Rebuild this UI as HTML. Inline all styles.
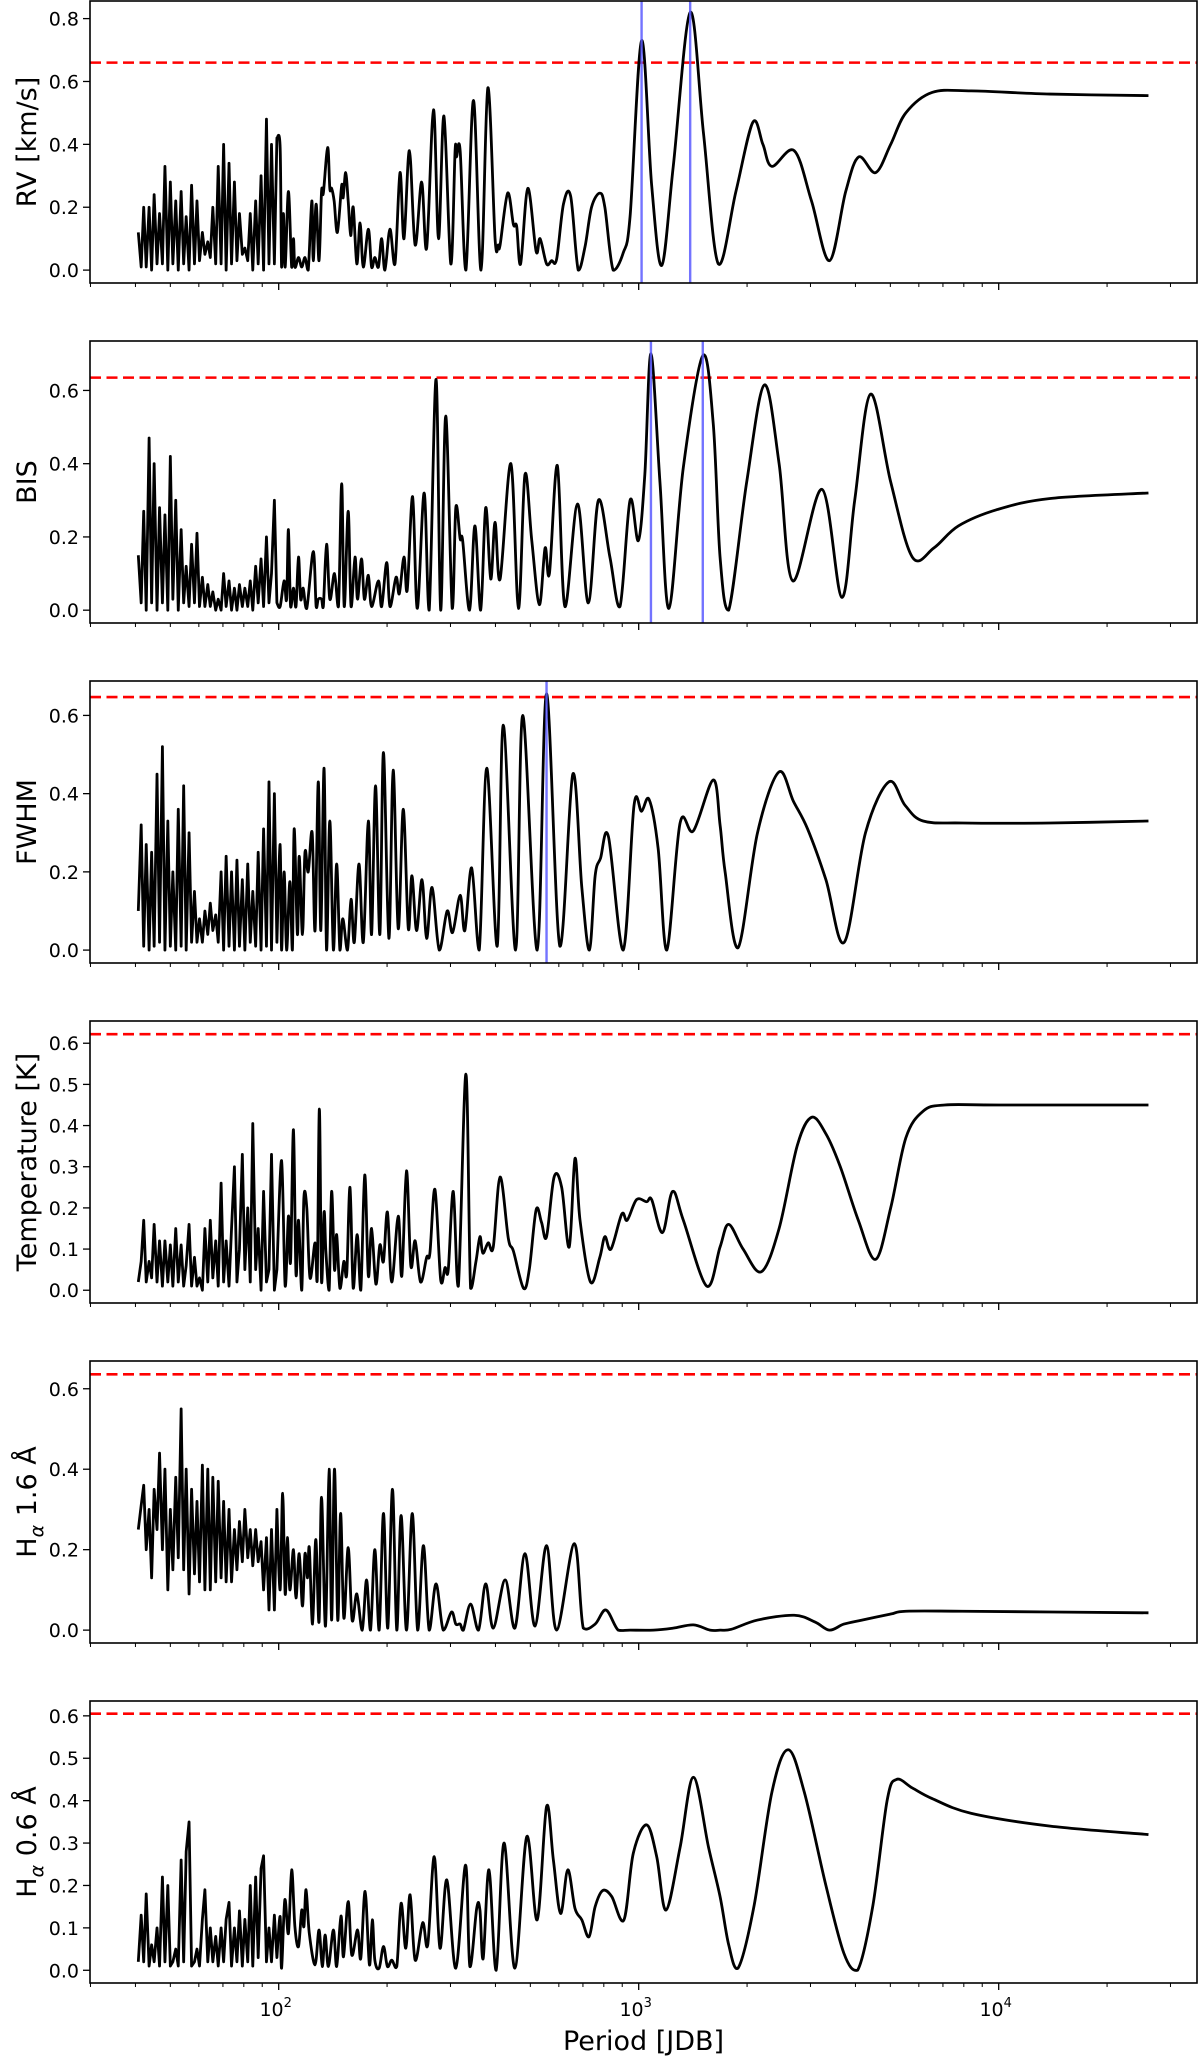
<!DOCTYPE html>
<html>
<head>
<meta charset="utf-8">
<style>
  html,body{margin:0;padding:0;background:#fff;}
  svg{display:block;font-family:"DejaVu Sans","Liberation Sans",sans-serif;}
</style>
</head>
<body>
<svg id="fig" width="1200" height="2058" viewBox="0 0 1200 2058" xmlns="http://www.w3.org/2000/svg"></svg>
<script>
// ---- shared dense period grid (log10 of period in days) ----
const denseLogP = [1.610,1.618,1.625,1.632,1.640,1.647,1.654,1.662,1.669,1.677,1.684,1.692,1.699,1.706,1.714,1.721,1.729,1.736,1.743,1.751,1.758,1.766,1.773,1.780,1.788,1.795,1.803,1.810,1.817,1.825,1.832,1.840,1.847,1.854,1.862,1.869,1.877,1.884,1.891,1.899,1.906,1.914,1.921,1.928,1.936,1.943,1.951,1.958,1.966,1.973,1.980,1.988,1.995];

// ---- RV ----
const rvDense = [0.12,0.01,0.2,0.01,0.2,0.0,0.24,0.02,0.18,0.02,0.33,0.0,0.28,0.02,0.22,0.0,0.25,0.02,0.17,0.0,0.27,0.02,0.22,0.03,0.12,0.05,0.09,0.04,0.2,0.02,0.33,0.02,0.40,0.0,0.34,0.02,0.28,0.03,0.18,0.05,0.07,0.03,0.18,0.0,0.22,0.02,0.3,0.0,0.48,0.02,0.4,0.02,0.42];
const rvLogP = [2.004,2.008,2.013,2.018,2.027,2.036,2.041,2.045,2.055,2.064,2.073,2.082,2.092,2.096,2.104,2.112,2.119,2.124,2.136,2.142,2.147,2.154,2.163,2.175,2.179,2.186,2.193,2.200,2.207,2.217,2.226,2.235,2.249,2.258,2.267,2.277,2.286,2.295,2.309,2.323,2.337,2.348,2.363,2.379,2.397,2.411,2.430,2.444,2.459,2.478,2.490,2.494,2.504,2.520,2.541,2.562,2.581,2.601,2.610,2.615,2.636,2.652,2.661,2.672,2.692,2.715,2.726,2.744,2.758,2.772,2.791,2.811,2.832,2.851,2.869,2.892,2.906,2.929,2.957,2.976,3.008,3.036,3.064,3.096,3.143,3.180,3.221,3.27,3.317,3.345,3.370,3.432,3.48,3.530,3.575,3.611,3.658,3.70,3.742,3.815,3.924,4.143,4.416];
const rvPower = [0.39,0.01,0.18,0.01,0.25,0.01,0.10,0.01,0.04,0.01,0.04,0.0,0.22,0.03,0.21,0.03,0.25,0.245,0.39,0.26,0.26,0.22,0.12,0.27,0.23,0.31,0.22,0.11,0.20,0.02,0.15,0.01,0.13,0.01,0.04,0.01,0.10,0.0,0.13,0.02,0.31,0.10,0.38,0.08,0.28,0.07,0.51,0.10,0.49,0.02,0.38,0.36,0.38,0.0,0.54,0.0,0.58,0.10,0.08,0.08,0.245,0.145,0.14,0.02,0.26,0.06,0.10,0.02,0.03,0.035,0.21,0.235,0.0,0.075,0.20,0.245,0.20,0.0,0.055,0.17,0.73,0.27,0.015,0.33,0.82,0.435,0.02,0.25,0.47,0.40,0.33,0.38,0.22,0.03,0.25,0.36,0.31,0.40,0.50,0.565,0.57,0.56,0.555];

// ---- BIS ----
const bisDense = [0.15,0.02,0.27,0.0,0.47,0.02,0.4,0.0,0.28,0.02,0.26,0.0,0.42,0.03,0.3,0.0,0.22,0.02,0.12,0.01,0.18,0.02,0.21,0.01,0.09,0.01,0.07,0.01,0.05,0.0,0.03,0.0,0.1,0.01,0.08,0.0,0.06,0.0,0.07,0.01,0.06,0.01,0.08,0.0,0.12,0.02,0.14,0.01,0.2,0.02,0.1,0.3,0.02];
const bisLogP = [2.004,2.015,2.022,2.027,2.033,2.041,2.048,2.055,2.061,2.068,2.078,2.096,2.104,2.110,2.119,2.124,2.133,2.142,2.155,2.166,2.175,2.182,2.193,2.201,2.212,2.219,2.230,2.238,2.249,2.258,2.277,2.286,2.300,2.309,2.326,2.335,2.348,2.357,2.372,2.385,2.404,2.418,2.437,2.450,2.464,2.482,2.492,2.504,2.511,2.530,2.545,2.561,2.575,2.589,2.601,2.615,2.645,2.666,2.684,2.703,2.724,2.740,2.752,2.774,2.795,2.830,2.860,2.888,2.920,2.948,2.976,2.999,3.017,3.034,3.059,3.084,3.124,3.178,3.207,3.226,3.25,3.30,3.349,3.39,3.428,3.509,3.564,3.60,3.644,3.70,3.760,3.82,3.888,3.997,4.143,4.416];
const bisPower = [0.01,0.08,0.03,0.22,0.01,0.06,0.01,0.145,0.03,0.06,0.005,0.16,0.01,0.03,0.03,0.01,0.18,0.03,0.10,0.01,0.345,0.01,0.27,0.01,0.145,0.03,0.14,0.03,0.095,0.01,0.08,0.01,0.13,0.01,0.09,0.045,0.145,0.055,0.31,0.005,0.32,0.0,0.63,0.0,0.53,0.005,0.28,0.195,0.19,0.0,0.23,0.0,0.28,0.085,0.24,0.085,0.40,0.005,0.37,0.19,0.015,0.17,0.10,0.395,0.01,0.29,0.02,0.30,0.145,0.01,0.30,0.19,0.37,0.70,0.35,0.005,0.39,0.695,0.51,0.145,0.0,0.35,0.615,0.4,0.08,0.33,0.035,0.3,0.59,0.35,0.145,0.17,0.23,0.275,0.305,0.32];

// ---- FWHM ----
const fwhmDense = [0.1,0.32,0.01,0.27,0.0,0.25,0.01,0.45,0.02,0.52,0.0,0.33,0.01,0.2,0.0,0.36,0.01,0.42,0.0,0.3,0.02,0.15,0.02,0.08,0.02,0.1,0.04,0.12,0.05,0.09,0.02,0.2,0.0,0.24,0.01,0.2,0.0,0.23,0.01,0.18,0.0,0.22,0.02,0.15,0.01,0.25,0.0,0.31,0.01,0.43,0.0,0.4,0.02];
const fwhmLogP = [2.004,2.008,2.015,2.022,2.031,2.038,2.043,2.052,2.057,2.066,2.073,2.082,2.093,2.101,2.110,2.117,2.126,2.133,2.142,2.152,2.161,2.170,2.178,2.191,2.201,2.210,2.223,2.235,2.249,2.258,2.269,2.281,2.291,2.306,2.318,2.332,2.346,2.360,2.370,2.383,2.398,2.411,2.426,2.446,2.468,2.483,2.504,2.517,2.536,2.557,2.578,2.607,2.624,2.658,2.678,2.718,2.744,2.781,2.817,2.842,2.863,2.879,2.894,2.916,2.957,2.987,3.008,3.029,3.054,3.078,3.115,3.152,3.207,3.226,3.24,3.276,3.33,3.389,3.43,3.469,3.52,3.571,3.63,3.695,3.74,3.79,3.9,4.143,4.416];
const fwhmPower = [0.27,0.0,0.20,0.0,0.175,0.0,0.31,0.04,0.24,0.04,0.25,0.20,0.30,0.05,0.43,0.05,0.465,0.0,0.33,0.0,0.22,0.0,0.08,0.0,0.13,0.02,0.22,0.02,0.33,0.04,0.42,0.04,0.505,0.03,0.46,0.055,0.36,0.055,0.19,0.05,0.18,0.03,0.16,0.0,0.10,0.045,0.14,0.05,0.21,0.0,0.465,0.01,0.575,0.0,0.60,0.0,0.655,0.01,0.45,0.16,0.0,0.19,0.235,0.29,0.0,0.37,0.355,0.385,0.26,0.0,0.325,0.305,0.435,0.32,0.2,0.006,0.3,0.455,0.38,0.31,0.18,0.02,0.3,0.43,0.37,0.33,0.325,0.325,0.33];

// ---- Temperature ----
const tempDense = [0.02,0.07,0.17,0.02,0.07,0.03,0.16,0.02,0.12,0.01,0.12,0.02,0.11,0.01,0.15,0.02,0.11,0.01,0.06,0.16,0.01,0.08,0.01,0.03,0.0,0.15,0.02,0.17,0.03,0.12,0.01,0.26,0.02,0.12,0.01,0.15,0.3,0.02,0.1,0.33,0.05,0.2,0.02,0.405,0.05,0.15,0.0,0.24,0.02,0.05,0.33,0.0,0.05];
const tempLogP = [2.008,2.018,2.027,2.033,2.041,2.048,2.055,2.064,2.070,2.078,2.087,2.101,2.107,2.113,2.119,2.126,2.131,2.140,2.147,2.155,2.161,2.170,2.181,2.189,2.198,2.207,2.218,2.228,2.239,2.249,2.258,2.270,2.281,2.291,2.302,2.314,2.332,2.342,2.355,2.367,2.379,2.394,2.411,2.420,2.434,2.450,2.462,2.471,2.485,2.499,2.520,2.533,2.548,2.559,2.567,2.582,2.596,2.615,2.638,2.652,2.680,2.696,2.715,2.730,2.744,2.765,2.786,2.807,2.823,2.837,2.866,2.892,2.906,2.923,2.953,2.968,2.994,3.022,3.036,3.066,3.094,3.124,3.189,3.226,3.25,3.29,3.341,3.39,3.44,3.480,3.52,3.560,3.61,3.658,3.70,3.742,3.79,3.85,4.0,4.416];
const tempPower = [0.315,0.01,0.18,0.07,0.39,0.04,0.17,0.0,0.225,0.20,0.03,0.115,0.025,0.44,0.02,0.19,0.095,0.0,0.24,0.05,0.135,0.005,0.07,0.04,0.25,0.005,0.135,0.0,0.28,0.035,0.15,0.015,0.11,0.07,0.19,0.02,0.18,0.035,0.29,0.06,0.12,0.02,0.08,0.09,0.245,0.025,0.055,0.05,0.24,0.01,0.525,0.005,0.07,0.13,0.09,0.115,0.105,0.275,0.125,0.095,0.005,0.05,0.195,0.165,0.13,0.275,0.25,0.105,0.32,0.17,0.02,0.08,0.13,0.10,0.185,0.17,0.22,0.215,0.22,0.14,0.24,0.17,0.01,0.105,0.16,0.1,0.045,0.15,0.35,0.42,0.38,0.30,0.17,0.075,0.2,0.37,0.435,0.45,0.45,0.45];

// ---- H-alpha 1.6 A ----
const ha16Dense = [0.25,0.31,0.36,0.2,0.3,0.13,0.35,0.25,0.44,0.2,0.4,0.1,0.3,0.15,0.38,0.18,0.55,0.15,0.4,0.09,0.35,0.14,0.32,0.12,0.41,0.1,0.4,0.1,0.38,0.12,0.37,0.13,0.32,0.12,0.3,0.12,0.25,0.15,0.27,0.17,0.3,0.18,0.25,0.16,0.25,0.17,0.22,0.1,0.23,0.05,0.25,0.05,0.3];
const ha16LogP = [2.004,2.011,2.018,2.024,2.031,2.041,2.048,2.057,2.066,2.073,2.080,2.085,2.094,2.103,2.112,2.119,2.130,2.140,2.147,2.155,2.164,2.172,2.181,2.193,2.204,2.217,2.232,2.244,2.255,2.267,2.279,2.291,2.303,2.316,2.328,2.340,2.355,2.371,2.386,2.402,2.418,2.437,2.457,2.480,2.492,2.504,2.513,2.533,2.555,2.575,2.596,2.629,2.656,2.684,2.712,2.744,2.772,2.821,2.846,2.879,2.909,2.943,2.976,3.041,3.096,3.152,3.198,3.226,3.257,3.33,3.432,3.49,3.530,3.57,3.62,3.70,3.742,3.9,4.416];
const ha16Power = [0.10,0.34,0.09,0.23,0.10,0.20,0.08,0.19,0.06,0.19,0.13,0.205,0.015,0.225,0.02,0.33,0.01,0.40,0.025,0.40,0.025,0.29,0.03,0.205,0.025,0.09,0.0,0.125,0.0,0.20,0.0,0.29,0.005,0.35,0.0,0.285,0.0,0.29,0.0,0.21,0.0,0.115,0.0,0.045,0.015,0.015,0.0,0.065,0.0,0.115,0.005,0.125,0.005,0.19,0.01,0.21,0.0,0.215,0.005,0.015,0.05,0.0,0.0,0.0,0.005,0.013,0.0,0.0,0.002,0.025,0.037,0.02,0.0,0.015,0.025,0.04,0.047,0.047,0.043];

// ---- H-alpha 0.6 A ----
const ha06Dense = [0.02,0.13,0.02,0.18,0.01,0.06,0.02,0.1,0.01,0.22,0.02,0.2,0.01,0.02,0.05,0.01,0.26,0.02,0.28,0.35,0.01,0.02,0.05,0.01,0.12,0.19,0.02,0.1,0.02,0.08,0.01,0.1,0.02,0.12,0.16,0.01,0.1,0.02,0.14,0.01,0.12,0.02,0.2,0.01,0.22,0.03,0.24,0.27,0.02,0.1,0.02,0.13,0.03];
const ha06LogP = [2.004,2.008,2.017,2.027,2.036,2.045,2.055,2.064,2.070,2.076,2.085,2.101,2.112,2.121,2.129,2.138,2.152,2.161,2.173,2.180,2.193,2.203,2.219,2.228,2.240,2.252,2.260,2.267,2.279,2.291,2.302,2.314,2.328,2.340,2.353,2.365,2.379,2.400,2.414,2.432,2.448,2.467,2.492,2.519,2.531,2.550,2.559,2.568,2.584,2.604,2.626,2.656,2.689,2.718,2.744,2.763,2.783,2.803,2.823,2.842,2.862,2.879,2.900,2.925,2.959,2.985,3.022,3.050,3.076,3.115,3.152,3.194,3.226,3.25,3.276,3.32,3.37,3.415,3.46,3.52,3.57,3.608,3.65,3.69,3.716,3.76,3.815,3.924,4.143,4.416];
const ha06Power = [0.127,0.005,0.166,0.087,0.237,0.103,0.056,0.142,0.103,0.19,0.087,0.013,0.095,0.009,0.083,0.009,0.095,0.009,0.128,0.032,0.162,0.036,0.095,0.028,0.186,0.013,0.119,0.024,0.005,0.056,0.009,0.024,0.009,0.158,0.052,0.178,0.024,0.112,0.06,0.268,0.052,0.213,0.005,0.248,0.009,0.146,0.142,0.028,0.237,0.0,0.30,0.005,0.315,0.119,0.386,0.26,0.134,0.237,0.146,0.119,0.079,0.15,0.188,0.174,0.119,0.276,0.343,0.268,0.142,0.29,0.455,0.29,0.174,0.06,0.005,0.15,0.42,0.52,0.42,0.2,0.04,0.0,0.15,0.4,0.45,0.43,0.405,0.37,0.34,0.32];

// ---- thresholds, peaks, axis labels ----
const thresholds = [0.66, 0.635, 0.647, 0.622, 0.636, 0.605];
const rvPeakLogP = [3.008, 3.143];
const bisPeakLogP = [3.034, 3.178];
const fwhmPeakLogP = [2.744];
const yLabels = ["RV [km/s]", "BIS", "FWHM", "Temperature [K]", "H|α| 1.6 Å", "H|α| 0.6 Å"];
const yTicksA = [0, 0.2, 0.4, 0.6, 0.8];
const yTicksB = [0, 0.2, 0.4, 0.6];
const yTicksC = [0, 0.1, 0.2, 0.3, 0.4, 0.5, 0.6];
const xMajorLogP = [2, 3, 4];
const xMajorLabels = ["2", "3", "4"];
const xMinorPeriods = [30,40,50,60,70,80,90,200,300,400,500,600,700,800,900,2000,3000,4000,5000,6000,7000,8000,9000,20000,30000];

// ---- layout ----
const SVGNS = "http://www.w3.org/2000/svg";
const svg = document.getElementById('fig');
const L = 90, R = 1197, PH = 282, PSTEP = 340, PTOP = 1;
const X0 = 278.7, DEC = 360;
function xs(lg){ return X0 + (lg - 2) * DEC; }

const panels = [
  {name:'rv', dense:rvDense, lg:rvLogP, p:rvPower, ylim:[-0.041,0.856], ticks:yTicksA, peaks:rvPeakLogP},
  {name:'bis', dense:bisDense, lg:bisLogP, p:bisPower, ylim:[-0.035,0.735], ticks:yTicksB, peaks:bisPeakLogP},
  {name:'fwhm', dense:fwhmDense, lg:fwhmLogP, p:fwhmPower, ylim:[-0.033,0.688], ticks:yTicksB, peaks:fwhmPeakLogP},
  {name:'temperature', dense:tempDense, lg:tempLogP, p:tempPower, ylim:[-0.031,0.654], ticks:yTicksC, peaks:[]},
  {name:'halpha-16', dense:ha16Dense, lg:ha16LogP, p:ha16Power, ylim:[-0.032,0.669], ticks:yTicksB, peaks:[]},
  {name:'halpha-06', dense:ha06Dense, lg:ha06LogP, p:ha06Power, ylim:[-0.030,0.635], ticks:yTicksC, peaks:[]}
];

function mk(tag, attrs){
  const e = document.createElementNS(SVGNS, tag);
  for (const k in attrs) e.setAttribute(k, attrs[k]);
  return e;
}
function linePath(pts){
  let d = 'M' + pts[0][0].toFixed(2) + ',' + pts[0][1].toFixed(2);
  for (let i = 1; i < pts.length; i++) d += 'L' + pts[i][0].toFixed(2) + ',' + pts[i][1].toFixed(2);
  return d;
}
function smoothSeg(pts, yMax){
  let d = '';
  for (let i = 0; i < pts.length - 1; i++){
    const p0 = pts[Math.max(0,i-1)], p1 = pts[i], p2 = pts[i+1], p3 = pts[Math.min(pts.length-1,i+2)];
    const c1x = p1[0] + (p2[0]-p0[0])/6, c1y = Math.min(yMax, p1[1] + (p2[1]-p0[1])/6);
    const c2x = p2[0] - (p3[0]-p1[0])/6, c2y = Math.min(yMax, p2[1] - (p3[1]-p1[1])/6);
    d += 'C' + c1x.toFixed(2) + ',' + c1y.toFixed(2) + ' ' + c2x.toFixed(2) + ',' + c2y.toFixed(2) + ' ' + p2[0].toFixed(2) + ',' + p2[1].toFixed(2);
  }
  return d;
}

const defs = mk('defs', {});
svg.appendChild(defs);

panels.forEach((pn, i) => {
  const top = PTOP + i * PSTEP, bot = top + PH;
  const y0 = pn.ylim[0], y1 = pn.ylim[1];
  const ys = v => bot - (v - y0) / (y1 - y0) * PH;

  const g = mk('g', {});
  
  
  svg.appendChild(g);

  const cp = mk('clipPath', {id: 'clip' + i});
  cp.appendChild(mk('rect', {x: L, y: top, width: R - L, height: PH}));
  defs.appendChild(cp);

  // threshold line
  const th = mk('line', {x1: L, x2: R, y1: ys(thresholds[i]), y2: ys(thresholds[i]), stroke: '#ff0000', 'stroke-width': 2.6, 'stroke-dasharray': '11 5.5'});
  
  
  g.appendChild(th);

  // periodogram curve: dense part straight, rest smoothed
  const densePts = [];
  const n = Math.min(denseLogP.length, pn.dense.length);
  for (let k = 0; k < n; k++) densePts.push([xs(denseLogP[k]), ys(pn.dense[k])]);
  const smoothPts = [densePts[densePts.length - 1]];
  const m = Math.min(pn.lg.length, pn.p.length);
  for (let k = 0; k < m; k++) smoothPts.push([xs(pn.lg[k]), ys(pn.p[k])]);
  const d = linePath(densePts) + smoothSeg(smoothPts, ys(0) + 1);
  const curve = mk('path', {d: d, fill: 'none', stroke: '#000', 'stroke-width': 2.8, 'stroke-linejoin': 'round', 'clip-path': 'url(#clip' + i + ')'});
  
  
  g.appendChild(curve);

  // peak markers
  pn.peaks.forEach(lg => {
    const v = mk('line', {x1: xs(lg), x2: xs(lg), y1: top, y2: bot, stroke: '#5a5aff', 'stroke-width': 2.4, 'stroke-opacity': 0.85});
    
    
    g.appendChild(v);
  });

  // frame
  const fr = mk('rect', {x: L, y: top, width: R - L, height: PH, fill: 'none', stroke: '#000', 'stroke-width': 1.6});
  
  
  g.appendChild(fr);

  // y ticks
  pn.ticks.forEach(t => {
    const yy = ys(t);
    const tk = mk('line', {x1: L - 7, x2: L, y1: yy, y2: yy, stroke: '#000', 'stroke-width': 1.3});
    
    
    g.appendChild(tk);
    const tl = mk('text', {x: L - 11, y: yy + 7, 'text-anchor': 'end', 'font-size': 19, fill: '#000'});
    tl.textContent = t.toFixed(1);
    
    
    g.appendChild(tl);
  });

  // x ticks
  xMajorLogP.forEach(lg => {
    const tk = mk('line', {x1: xs(lg), x2: xs(lg), y1: bot, y2: bot + 7, stroke: '#000', 'stroke-width': 1.3});
    
    
    g.appendChild(tk);
  });
  xMinorPeriods.forEach(pv => {
    const xx = xs(Math.log10(pv));
    if (xx < L - 0.5 || xx > R + 0.5) return;
    const tk = mk('line', {x1: xx, x2: xx, y1: bot, y2: bot + 4, stroke: '#000', 'stroke-width': 1});
    
    
    g.appendChild(tk);
  });

  // y label
  const yl = mk('text', {x: 0, y: 0, 'text-anchor': 'middle', 'font-size': 27, fill: '#000',
    transform: 'translate(36,' + ((top + bot) / 2) + ') rotate(-90)'});
  const parts = yLabels[i].split('|');
  if (parts.length === 3){
    yl.appendChild(document.createTextNode(parts[0]));
    const sub = mk('tspan', {'font-size': 19, dy: 7, 'font-style': 'italic'});
    sub.textContent = parts[1];
    yl.appendChild(sub);
    const rest = mk('tspan', {dy: -7});
    rest.textContent = parts[2];
    yl.appendChild(rest);
  } else {
    yl.textContent = yLabels[i];
  }
  
  
  g.appendChild(yl);

  // x tick labels on bottom panel
  if (i === panels.length - 1){
    xMajorLogP.forEach((lg, j) => {
      const t = mk('text', {x: xs(lg) - 3, y: 2016, 'text-anchor': 'middle', 'font-size': 19, fill: '#000'});
      t.appendChild(document.createTextNode('10'));
      const sup = mk('tspan', {'font-size': 13, dy: -9});
      sup.textContent = xMajorLabels[j];
      t.appendChild(sup);
      
      
      svg.appendChild(t);
    });
    const xt = mk('text', {x: (L + R) / 2, y: 2050, 'text-anchor': 'middle', 'font-size': 27, fill: '#000'});
    xt.textContent = 'Period [JDB]';
    
    
    svg.appendChild(xt);
  }
});
</script>
</body>
</html>
